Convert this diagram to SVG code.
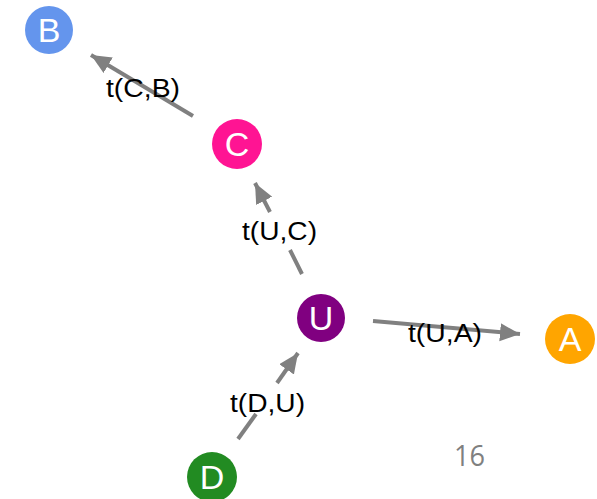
<svg xmlns="http://www.w3.org/2000/svg" width="597" height="499" viewBox="0 0 597 499">
  <style>
    .edge { stroke: #808080; stroke-width: 4; fill: none; }
    .elabel { font-family: "Liberation Sans", Arial, sans-serif; font-size: 26.5px; fill: #000; }
    .nlabel { font-family: "Liberation Sans", Arial, sans-serif; font-size: 34px; fill: #fff; text-anchor: middle; }
    .page { font-family: "Open Sans", "Noto Sans", sans-serif; font-size: 30px; fill: #808080; }
  </style>
  <defs>
    <marker id="arrow" markerUnits="userSpaceOnUse" markerWidth="22" markerHeight="20" refX="20" refY="9" orient="auto">
      <path d="M0,0 L20,9 L0,18 z" fill="#808080"/>
    </marker>
  </defs>
  <rect width="597" height="499" fill="#fff"/>

  <g id="connectors">
    <g id="edge-C-B">
      <line class="edge" x1="193" y1="116" x2="91" y2="55" marker-end="url(#arrow)"/>
      <text class="elabel" x="106" y="97" textLength="74" lengthAdjust="spacingAndGlyphs">t(C,B)</text>
    </g>
    <g id="edge-U-C">
      <line class="edge" x1="302" y1="274" x2="290" y2="250"/>
      <line class="edge" x1="270" y1="212" x2="255" y2="183" marker-end="url(#arrow)"/>
      <text class="elabel" x="242" y="240" textLength="75" lengthAdjust="spacingAndGlyphs">t(U,C)</text>
    </g>
    <g id="edge-U-A">
      <line class="edge" x1="373" y1="321" x2="520" y2="334" marker-end="url(#arrow)"/>
      <text class="elabel" x="408" y="342" textLength="74" lengthAdjust="spacingAndGlyphs">t(U,A)</text>
    </g>
    <g id="edge-D-U">
      <line class="edge" x1="238" y1="439" x2="256" y2="414"/>
      <line class="edge" x1="277" y1="383" x2="298" y2="353" marker-end="url(#arrow)"/>
      <text class="elabel" x="230" y="412" textLength="75" lengthAdjust="spacingAndGlyphs">t(D,U)</text>
    </g>
  </g>

  <g id="node-B">
    <circle cx="49" cy="30" r="24" fill="#6495ed"/>
    <text class="nlabel" x="49" y="42">B</text>
  </g>
  <g id="node-C">
    <circle cx="237" cy="144" r="25" fill="#ff1493"/>
    <text class="nlabel" x="237" y="156">C</text>
  </g>
  <g id="node-U">
    <circle cx="321" cy="318" r="24" fill="#800080"/>
    <text class="nlabel" x="321" y="330">U</text>
  </g>
  <g id="node-A">
    <circle cx="570" cy="339" r="25" fill="#ffa500"/>
    <text class="nlabel" x="570" y="351">A</text>
  </g>
  <g id="node-D">
    <circle cx="212" cy="477" r="25" fill="#228b22"/>
    <text class="nlabel" x="212" y="489">D</text>
  </g>

  <text class="page" x="454" y="466" textLength="31" lengthAdjust="spacingAndGlyphs">16</text>
</svg>
